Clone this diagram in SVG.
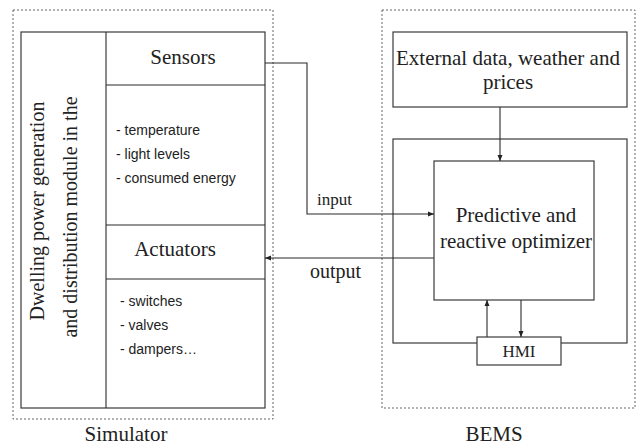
<svg xmlns="http://www.w3.org/2000/svg" width="636" height="447" viewBox="0 0 636 447">
<style>
.dash{fill:none;stroke:#666;stroke-width:1;stroke-dasharray:2,2}
.box{fill:#fff;stroke:#3a3a3a;stroke-width:1.2}
.ln{fill:none;stroke:#2a2a2a;stroke-width:1.1}
.serif{font-family:"Liberation Serif","Times New Roman",serif;fill:#222;font-size:21px}
.sans{font-family:"Liberation Sans",Arial,sans-serif;fill:#222;font-size:14px}
</style>
<defs>
<marker id="ah" markerWidth="6" markerHeight="6" refX="6" refY="3" orient="auto" markerUnits="userSpaceOnUse">
<path d="M0,0.5 L6,3 L0,5.5 Z" fill="#222"/>
</marker>
</defs>
<g id="simulator">
<rect class="dash" x="13" y="10" width="260" height="409"/>
<text class="serif" x="126" y="441" text-anchor="middle">Simulator</text>
</g>
<g id="dwelling">
<rect class="box" x="21" y="32" width="244" height="376"/>
<line class="ln" x1="106" y1="32" x2="106" y2="408"/>
<text class="serif" font-size="20" text-anchor="middle" transform="translate(44,211) rotate(-90)" style="font-size:20px">Dwelling power generation</text>
<text class="serif" text-anchor="middle" transform="translate(77,217) rotate(-90)" style="font-size:20px">and distribution module in the</text>
</g>
<g id="sensors">
<line class="ln" x1="106" y1="85" x2="265" y2="85"/>
<text class="serif" x="183" y="64" text-anchor="middle">Sensors</text>
<text class="sans" x="116" y="135">- temperature</text>
<text class="sans" x="116" y="159">- light levels</text>
<text class="sans" x="116" y="183">- consumed energy</text>
</g>
<g id="actuators">
<line class="ln" x1="106" y1="225" x2="265" y2="225"/>
<line class="ln" x1="106" y1="279" x2="265" y2="279"/>
<text class="serif" x="175" y="256" text-anchor="middle">Actuators</text>
<text class="sans" x="120" y="306">- switches</text>
<text class="sans" x="120" y="330">- valves</text>
<text class="sans" x="120" y="354">- dampers…</text>
</g>
<g id="bems">
<rect class="dash" x="382" y="10" width="253" height="398"/>
<text class="serif" x="494" y="441" text-anchor="middle">BEMS</text>
</g>
<g id="external">
<rect class="box" x="393" y="32" width="234" height="75"/>
<text class="serif" x="508" y="65" text-anchor="middle">External data, weather and</text>
<text class="serif" x="508" y="89" text-anchor="middle">prices</text>
</g>
<g id="container">
<rect class="box" x="393" y="139" width="234" height="204"/>
</g>
<g id="optimizer">
<rect class="box" x="434" y="161" width="160" height="139"/>
<text class="serif" x="516" y="222" text-anchor="middle">Predictive and</text>
<text class="serif" x="516" y="248" text-anchor="middle">reactive optimizer</text>
</g>
<g id="hmi">
<rect class="box" x="477" y="337" width="84" height="28"/>
<text class="serif" x="519" y="357" text-anchor="middle" style="font-size:17px">HMI</text>
</g>
<g id="connectors">
<path class="ln" d="M265,63 H307 V214 H434" marker-end="url(#ah)"/>
<text class="serif" x="317" y="205" style="font-size:17px">input</text>
<path class="ln" d="M434,258 H265" marker-end="url(#ah)"/>
<text class="serif" x="310" y="278" style="font-size:20px">output</text>
<path class="ln" d="M500,107 V161" marker-end="url(#ah)"/>
<path class="ln" d="M487,337 V300" marker-end="url(#ah)"/>
<path class="ln" d="M521,300 V337" marker-end="url(#ah)"/>
</g>
</svg>
